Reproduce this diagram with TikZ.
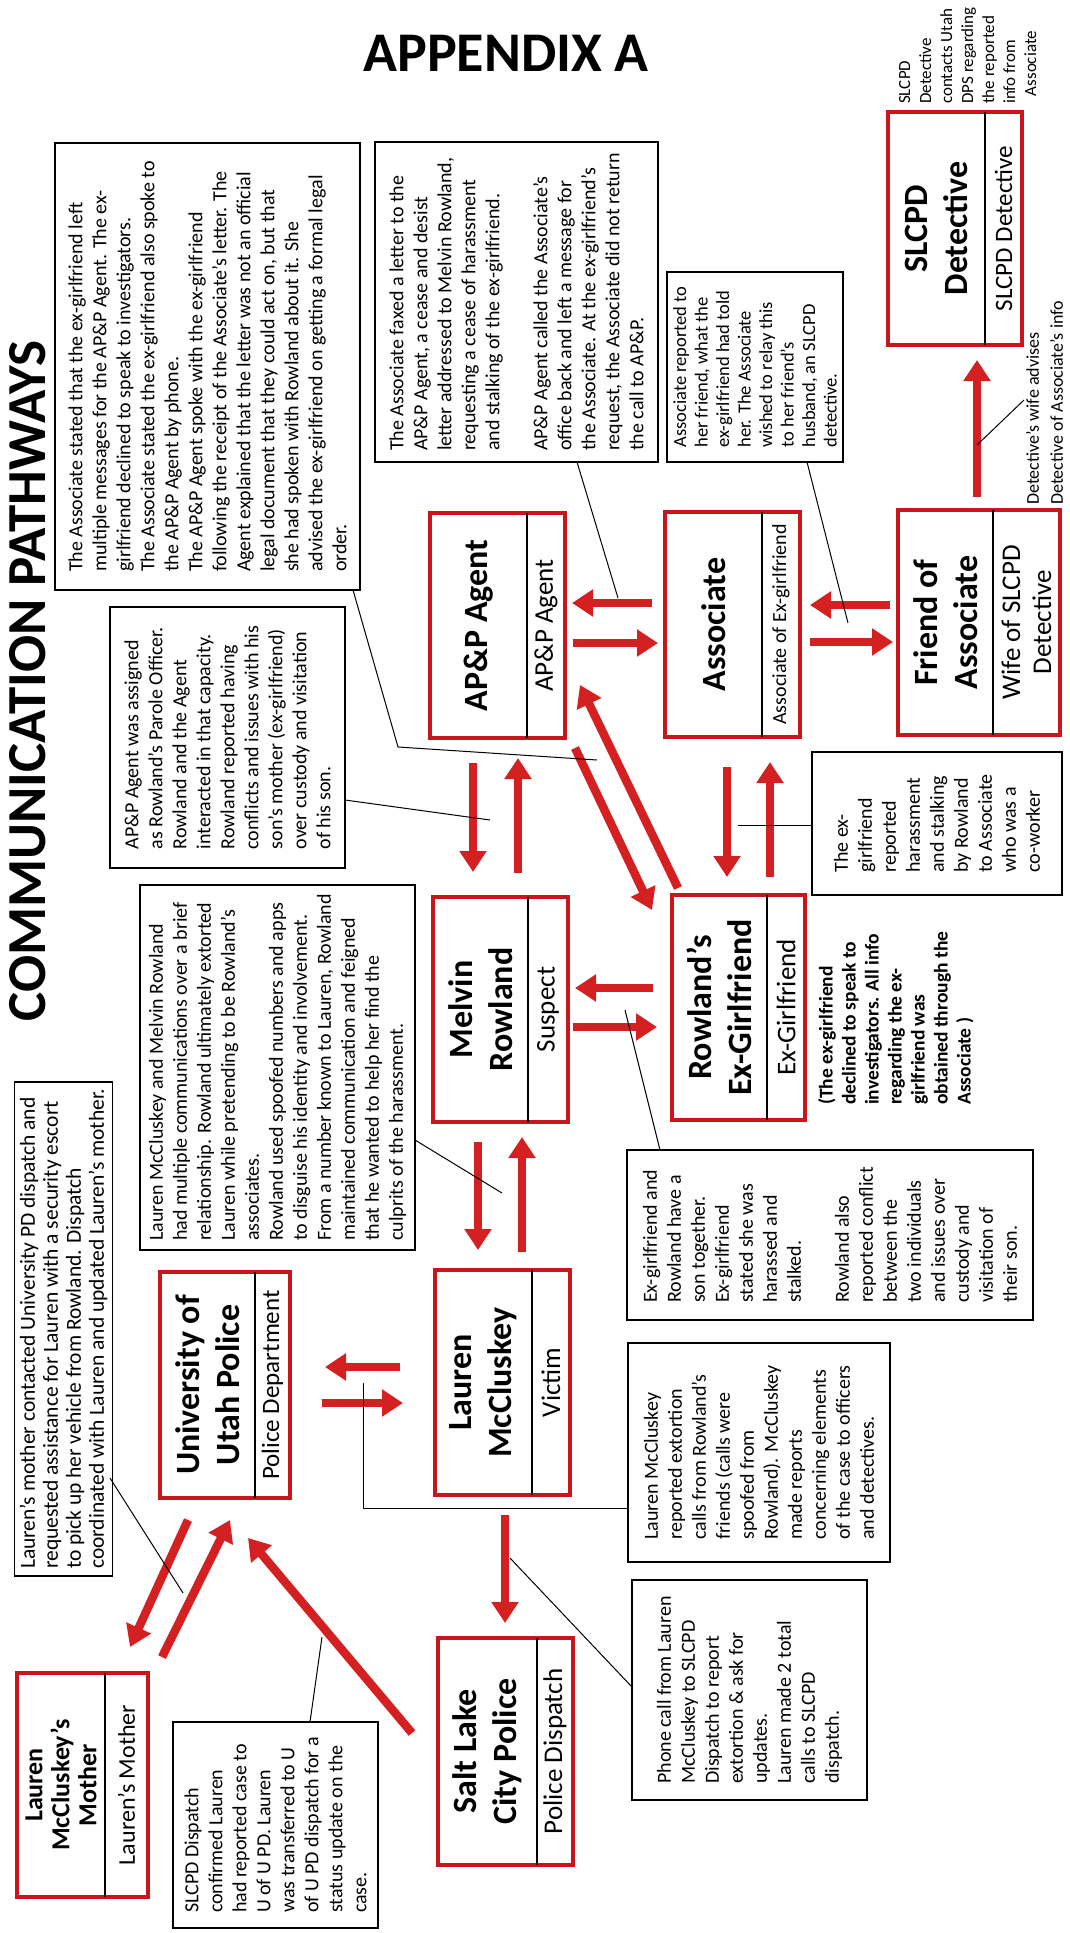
\documentclass[tikz,border=0pt]{standalone}
\usepackage{fontspec}
\setmainfont{Carlito}
\usetikzlibrary{arrows.meta}
\definecolor{entred}{RGB}{200,22,28}
\definecolor{arrred}{RGB}{212,32,32}
\begin{document}
\begin{tikzpicture}[x=1pt,y=-1pt,
  ent/.style={draw=entred, line width=3.5pt, inner sep=0pt},
  divl/.style={draw=black, line width=1.3pt},
  ttl/.style={rotate=90, font=\bfseries\fontsize{34}{40}\selectfont, align=center, inner sep=0pt},
  sub/.style={rotate=90, font=\fontsize{27}{31}\selectfont, align=center, inner sep=0pt},
  note/.style={draw=black, line width=1.6pt, rotate=90, font=\fontsize{20}{24}\selectfont, align=left, inner xsep=7pt, inner ysep=5pt},
  free/.style={rotate=90, align=left, inner sep=0pt, anchor=north west},
  lead/.style={draw=black, line width=1pt},
  rarr/.style={draw=arrred, line width=8.5pt, -{Triangle[length=21pt,width=26pt]}}
]
\useasboundingbox[fill=white] (0,0) rectangle (1070,1933);

% ---------- headings ----------
\node[font=\bfseries\fontsize{56}{60}\selectfont, inner sep=0pt] (appx) at (506,53) {APPENDIX A};
\node[rotate=90, font=\bfseries\fontsize{55}{60}\selectfont, inner sep=0pt] (cpw) at (28,681) {COMMUNICATION PATHWAYS};

% ---------- entity boxes ----------
\node[ent, minimum width=134pt, minimum height=233pt] (slcpd) at (955,228.5) {};
\draw[divl] (985,112) -- (985,345);
\node[ttl] (slcpdT) at (936.5,228.5) {SLCPD\\Detective};
\node[sub, font=\fontsize{25}{29}\selectfont] (slcpdS) at (1003.5,228.5) {SLCPD Detective};

\node[ent, minimum width=135pt, minimum height=225pt] (apnp) at (497.5,625.5) {};
\draw[divl] (527,513) -- (527,738);
\node[ttl] (apnpT) at (478.5,625.5) {AP\&P Agent};
\node[sub] (apnpS) at (546,625.5) {AP\&P Agent};

\node[ent, minimum width=135pt, minimum height=225pt] (assoc) at (732.5,624.5) {};
\draw[divl] (762,512) -- (762,737);
\node[ttl] (assocT) at (713.5,624.5) {Associate};
\node[sub, font=\fontsize{20}{24}\selectfont] (assocS) at (781,624.5) {Associate of Ex-girlfriend};

\node[ent, minimum width=162pt, minimum height=225pt] (friend) at (979,622.5) {};
\draw[divl] (993,510) -- (993,735);
\node[ttl] (friendT) at (945.5,622.5) {Friend of\\Associate};
\node[sub] (friendS) at (1026.5,622.5) {Wife of SLCPD\\Detective};

\node[ent, minimum width=135pt, minimum height=225pt] (melvin) at (500.5,1009.5) {};
\draw[divl] (528,897) -- (528,1122);
\node[ttl] (melvinT) at (480.5,1009.5) {Melvin\\Rowland};
\node[sub] (melvinS) at (548,1009.5) {Suspect};

\node[ent, minimum width=133pt, minimum height=225pt] (exgf) at (738.5,1007.5) {};
\draw[divl] (767,895) -- (767,1120);
\node[ttl] (exgfT) at (719.5,1007.5) {Rowland’s\\Ex-Girlfriend};
\node[sub] (exgfS) at (786,1007.5) {Ex-Girlfriend};

\node[ent, minimum width=135pt, minimum height=225pt] (lauren) at (502.5,1382.5) {};
\draw[divl] (532,1270) -- (532,1495);
\node[ttl] (laurenT) at (483.5,1382.5) {Lauren\\McCluskey};
\node[sub] (laurenS) at (551,1382.5) {Victim};

\node[ent, minimum width=130pt, minimum height=226pt] (univ) at (225,1385) {};
\draw[divl] (255,1272) -- (255,1498);
\node[ttl] (univT) at (207.5,1385) {University of\\Utah Police};
\node[sub, font=\fontsize{25}{29}\selectfont] (univS) at (272.5,1385) {Police Department};

\node[ent, minimum width=135pt, minimum height=227pt] (slc) at (505.5,1751.5) {};
\draw[divl] (537,1638) -- (537,1865);
\node[ttl] (slcT) at (487.5,1751.5) {Salt Lake\\City Police};
\node[sub] (slcS) at (555,1751.5) {Police Dispatch};

\node[ent, minimum width=131pt, minimum height=224pt] (mother) at (82.5,1785) {};
\draw[divl] (105,1673) -- (105,1897);
\node[ttl, font=\bfseries\fontsize{26}{27}\selectfont] (motherT) at (61,1785) {Lauren\\McCluskey’s\\Mother};
\node[sub, font=\fontsize{24}{28}\selectfont] (motherS) at (126.5,1785) {Lauren’s Mother};

% ---------- note boxes ----------
\node[note, minimum width=447pt, minimum height=305pt] (nStated) at (207.5,366.5) {The Associate stated that the ex-girlfriend left\\
multiple messages for the AP\&P Agent. The ex-\\
girlfriend declined to speak to investigators.\\
The Associate stated the ex-girlfriend also spoke to\\
the AP\&P Agent by phone.\\
The AP\&P Agent spoke with the ex-girlfriend\\
following the receipt of the Associate’s letter. The\\
Agent explained that the letter was not an official\\
legal document that they could act on, but that\\
she had spoken with Rowland about it. She\\
advised the ex-girlfriend on getting a formal legal\\
order.};

\node[note, minimum width=320pt, minimum height=283pt] (nFaxed) at (516.5,302) {The Associate faxed a letter to the\\
AP\&P Agent, a cease and desist\\
letter addressed to Melvin Rowland,\\
requesting a cease of harassment\\
and stalking of the ex-girlfriend.\\[24pt]
AP\&P Agent called the Associate’s\\
office back and left a message for\\
the Associate. At the ex-girlfriend’s\\
request, the Associate did not return\\
the call to AP\&P.};

\node[note, font=\fontsize{18.5}{21.5}\selectfont, minimum width=190pt, minimum height=176pt] (nAssocRep) at (755,367) {Associate reported to\\
her friend, what the\\
ex-girlfriend had told\\
her. The Associate\\
wished to relay this\\
to her friend’s\\
husband, an SLCPD\\
detective.};

\node[note, minimum width=261pt, minimum height=235pt] (nAPtxt) at (227.5,737.5) {AP\&P Agent was assigned\\
as Rowland’s Parole Officer.\\
Rowland and the Agent\\
interacted in that capacity.\\
Rowland reported having\\
conflicts and issues with his\\
son’s mother (ex-girlfriend)\\
over custody and visitation\\
of his son.};

\node[note, minimum width=365pt, minimum height=275pt] (nLM) at (277.5,1067.5) {Lauren McCluskey and Melvin Rowland\\
had multiple communications over a brief\\
relationship. Rowland ultimately extorted\\
Lauren while pretending to be Rowland’s\\
associates.\\
Rowland used spoofed numbers and apps\\
to disguise his identity and involvement.\\
From a number known to Lauren, Rowland\\
maintained communication and feigned\\
that he wanted to help her find the\\
culprits of the harassment.};

\node[note, font=\fontsize{21.5}{23}\selectfont, minimum width=492pt, minimum height=93pt] (nMomC) at (63.5,1329) {Lauren’s mother contacted University PD dispatch and\\
requested assistance for Lauren with a security escort\\
to pick up her vehicle from Rowland. Dispatch\\
coordinated with Lauren and updated Lauren’s mother.};

\node[note, minimum width=206pt, minimum height=205pt] (nDisp) at (275.5,1825) {SLCPD Dispatch\\
confirmed Lauren\\
had reported case to\\
U of U PD. Lauren\\
was transferred to U\\
of U PD dispatch for a\\
status update on the\\
case.};

\node[note, minimum width=220pt, minimum height=235pt] (nPhone) at (749.5,1690) {Phone call from Lauren\\
McCluskey to SLCPD\\
Dispatch to report\\
extortion \& ask for\\
updates.\\
Lauren made 2 total\\
calls to SLCPD\\
dispatch.};

\node[note, minimum width=219pt, minimum height=262pt] (nLRep) at (759,1452.5) {Lauren McCluskey\\
reported extortion\\
calls from Rowland’s\\
friends (calls were\\
spoofed from\\
Rowland). McCluskey\\
made reports\\
concerning elements\\
of the case to officers\\
and detectives.};

\node[note, minimum width=170pt, minimum height=406pt] (nSon) at (830,1235) {Ex-girlfriend and\\
Rowland have a\\
son together.\\
Ex-girlfriend\\
stated she was\\
harassed and\\
stalked.\\[24pt]
Rowland also\\
reported conflict\\
between the\\
two individuals\\
and issues over\\
custody and\\
visitation of\\
their son.};

\node[note, minimum width=143pt, minimum height=250pt] (nExRep) at (937,823.5) {The ex-\\
girlfriend\\
reported\\
harassment\\
and stalking\\
by Rowland\\
to Associate\\
who was a\\
co-worker};

% ---------- free texts ----------
\node[free, font=\fontsize{17}{21}\selectfont] (tSide) at (899,104) {SLCPD\\Detective\\contacts Utah\\DPS regarding\\the reported\\info from\\\ \ Associate};
\node[free, font=\fontsize{18}{24}\selectfont] (tWife) at (1026,505) {Detective’s wife advises\\Detective of Associate’s info};
\node[free, font=\bfseries\fontsize{19.5}{23}\selectfont] (tExNote) at (818,1105) {(The ex-girlfriend\\declined to speak to\\investigators. All info\\regarding the ex-\\girlfriend was\\obtained through the\\Associate )};

% ---------- arrow end points ----------
\coordinate (a1s) at (652,603);  \coordinate (a1e) at (572,603);
\coordinate (a2s) at (573,643);  \coordinate (a2e) at (658,643);
\coordinate (b1s) at (890,605);  \coordinate (b1e) at (810,605);
\coordinate (b2s) at (810,642);  \coordinate (b2e) at (893,642);
\coordinate (cs) at (977,497);   \coordinate (ce) at (977,360);
\coordinate (d1s) at (473,763);  \coordinate (d1e) at (473,872);
\coordinate (d2s) at (518,873);  \coordinate (d2e) at (518,758);
\coordinate (e1s) at (575,748);  \coordinate (e1e) at (652,910);
\coordinate (e2s) at (678,888);  \coordinate (e2e) at (580,685);
\coordinate (f1s) at (653,988);  \coordinate (f1e) at (575,988);
\coordinate (f2s) at (573,1027); \coordinate (f2e) at (657,1027);
\coordinate (g1s) at (727,767);  \coordinate (g1e) at (727,877);
\coordinate (g2s) at (770,877);  \coordinate (g2e) at (770,762);
\coordinate (h1s) at (478,1142); \coordinate (h1e) at (478,1250);
\coordinate (h2s) at (522,1252); \coordinate (h2e) at (522,1137);
\coordinate (i1s) at (400,1367); \coordinate (i1e) at (325,1367);
\coordinate (i2s) at (322,1403); \coordinate (i2e) at (403,1403);
\coordinate (js) at (505,1515);  \coordinate (je) at (505,1623);
\coordinate (ks) at (188,1520);  \coordinate (ke) at (130,1647);
\coordinate (ls) at (162,1657);  \coordinate (le) at (230,1520);
\coordinate (ms) at (412,1733);  \coordinate (me) at (248,1538);

\draw[rarr] (a1s) -- (a1e);  \draw[rarr] (a2s) -- (a2e);
\draw[rarr] (b1s) -- (b1e);  \draw[rarr] (b2s) -- (b2e);
\draw[rarr] (cs) -- (ce);
\draw[rarr] (d1s) -- (d1e);  \draw[rarr] (d2s) -- (d2e);
\draw[rarr] (e1s) -- (e1e);  \draw[rarr] (e2s) -- (e2e);
\draw[rarr] (f1s) -- (f1e);  \draw[rarr] (f2s) -- (f2e);
\draw[rarr] (g1s) -- (g1e);  \draw[rarr] (g2s) -- (g2e);
\draw[rarr] (h1s) -- (h1e);  \draw[rarr] (h2s) -- (h2e);
\draw[rarr] (i1s) -- (i1e);  \draw[rarr] (i2s) -- (i2e);
\draw[rarr] (js) -- (je);
\draw[rarr] (ks) -- (ke);    \draw[rarr] (ls) -- (le);
\draw[rarr] (ms) -- (me);

% ---------- leader lines ----------
\coordinate (l1a) at (353,590); \coordinate (l1b) at (398,747); \coordinate (l1c) at (597,760);
\draw[lead] (l1a) -- (l1b) -- (l1c);
\coordinate (l2a) at (577,462); \coordinate (l2b) at (618,598);
\draw[lead] (l2a) -- (l2b);
\coordinate (l3a) at (807,462); \coordinate (l3b) at (848,623);
\draw[lead] (l3a) -- (l3b);
\coordinate (l4a) at (345,800); \coordinate (l4b) at (490,820);
\draw[lead] (l4a) -- (l4b);
\coordinate (l5a) at (415,1140); \coordinate (l5b) at (502,1193);
\draw[lead] (l5a) -- (l5b);
\coordinate (l6a) at (660,1150); \coordinate (l6b) at (625,1010);
\draw[lead] (l6a) -- (l6b);
\coordinate (l7a) at (812,825); \coordinate (l7b) at (738,825);
\draw[lead] (l7a) -- (l7b);
\coordinate (l8a) at (110,1478); \coordinate (l8b) at (183,1593);
\draw[lead] (l8a) -- (l8b);
\coordinate (l9a) at (628,1508); \coordinate (l9b) at (363,1508); \coordinate (l9c) at (363,1383);
\draw[lead] (l9a) -- (l9b) -- (l9c);
\coordinate (l10a) at (632,1687); \coordinate (l10b) at (510,1558);
\draw[lead] (l10a) -- (l10b);
\coordinate (l11a) at (310,1722); \coordinate (l11b) at (322,1637);
\draw[lead] (l11a) -- (l11b);
\coordinate (l12a) at (977,445); \coordinate (l12b) at (1024,400);
\draw[lead] (l12a) -- (l12b);
\end{tikzpicture}
\end{document}
